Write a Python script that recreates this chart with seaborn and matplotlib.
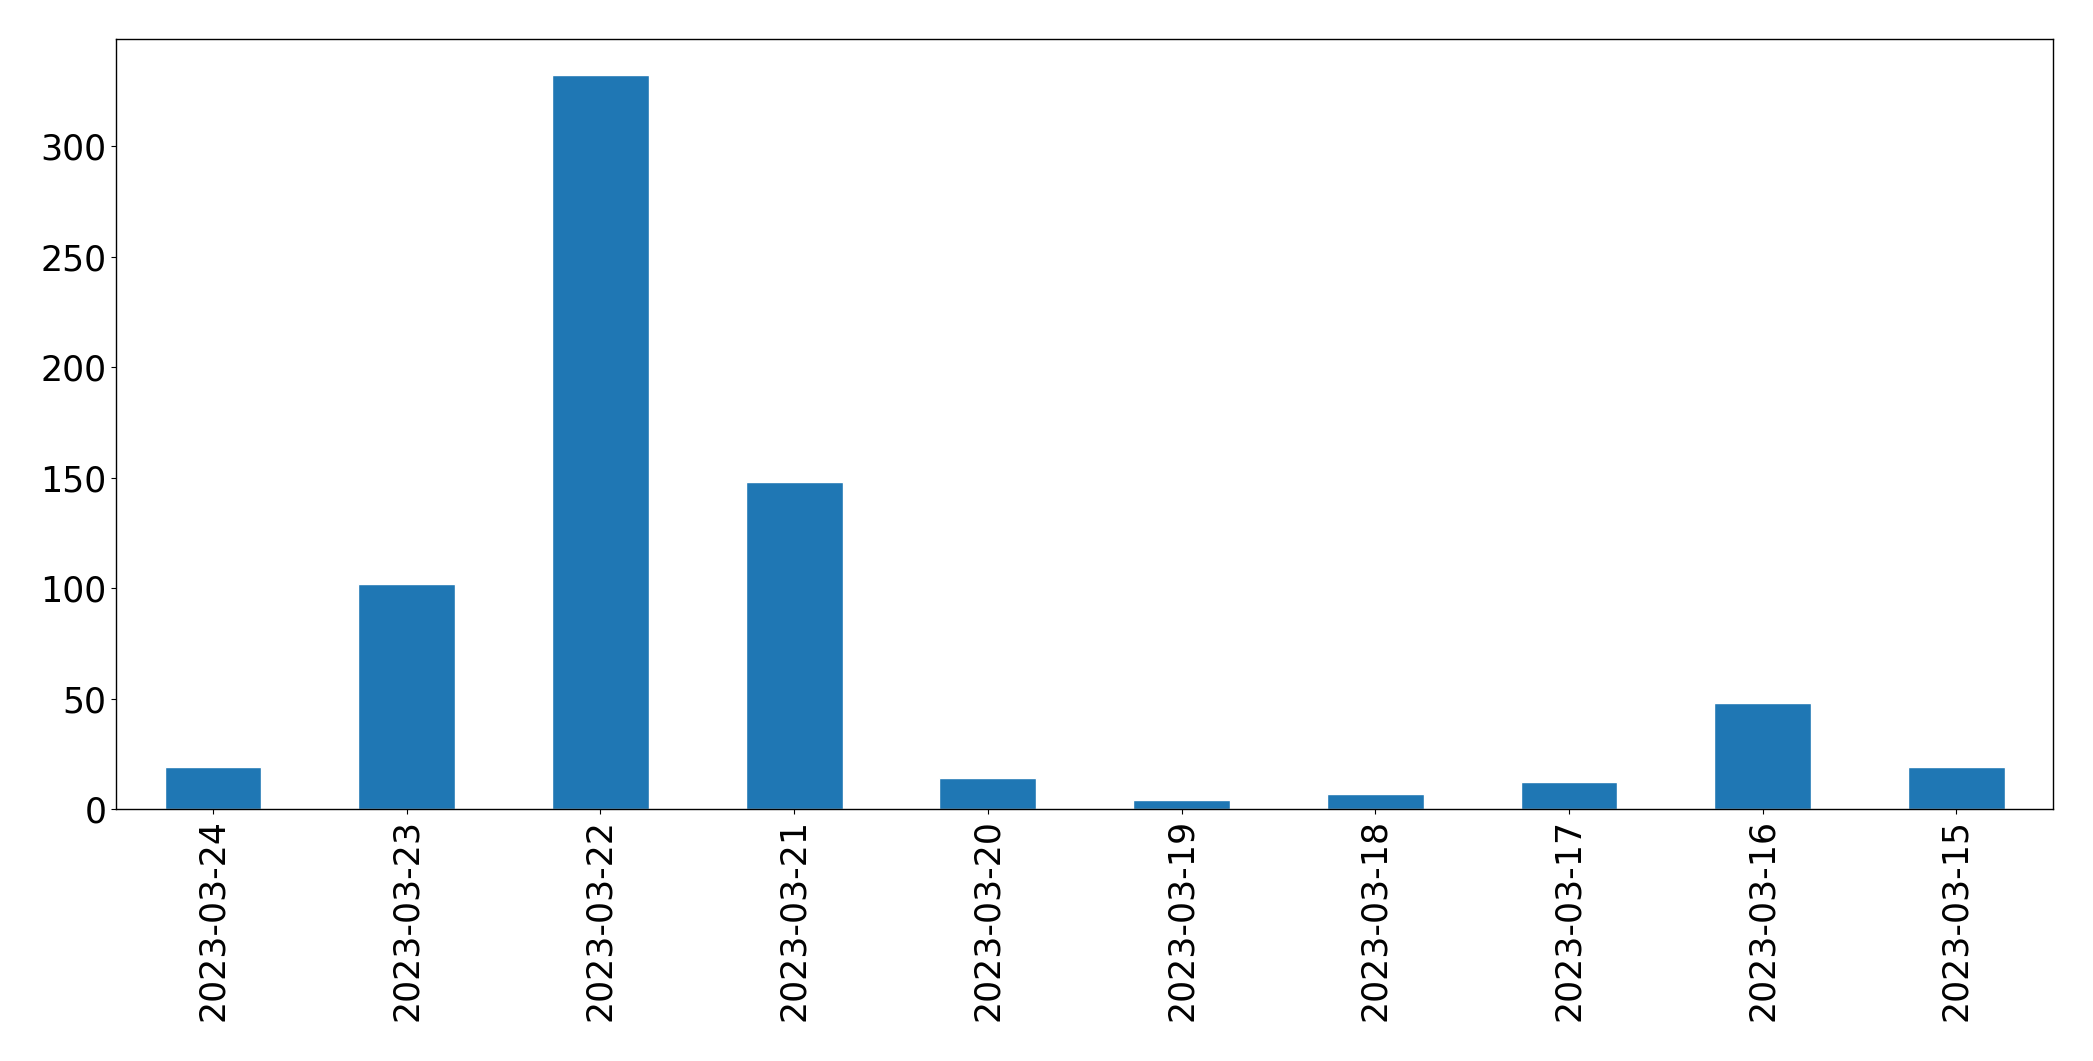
import pandas as pd
import matplotlib
matplotlib.use("Agg")
import matplotlib.pyplot as plt
import seaborn as sns

# Daily counts, newest first (as in the reference)
dates = ["2023-03-24", "2023-03-23", "2023-03-22", "2023-03-21", "2023-03-20",
         "2023-03-19", "2023-03-18", "2023-03-17", "2023-03-16", "2023-03-15"]
counts = [19, 102, 332, 148, 14, 4, 7, 12, 48, 19]

df = pd.DataFrame({"date": dates, "count": counts})

sns.set_style("ticks")
plt.rcParams['font.family'] = ['DejaVu Sans']
plt.rcParams['text.color'] = 'black'
plt.rcParams['xtick.color'] = 'black'
plt.rcParams['ytick.color'] = 'black'

fig = plt.figure(figsize=(20.93, 10.61), dpi=100)
ax = fig.add_axes([0.0555, 0.2375, 0.9255, 0.726])

sns.barplot(x="date", y="count", data=df, color="#1f77b4", saturation=1,
            width=0.5, order=dates, ax=ax)

ax.set_xlim(-0.5, len(dates) - 0.5)
ax.set_ylim(0, max(counts) * 1.05)
ax.set_xlabel("")
ax.set_ylabel("")
ax.tick_params(axis="x", labelsize=25, rotation=90, colors="black")
ax.tick_params(axis="y", labelsize=25, colors="black")
for s in ax.spines.values():
    s.set_visible(True)
    s.set_linewidth(1)
    s.set_color("black")

fig.savefig("out.png", dpi=100)
